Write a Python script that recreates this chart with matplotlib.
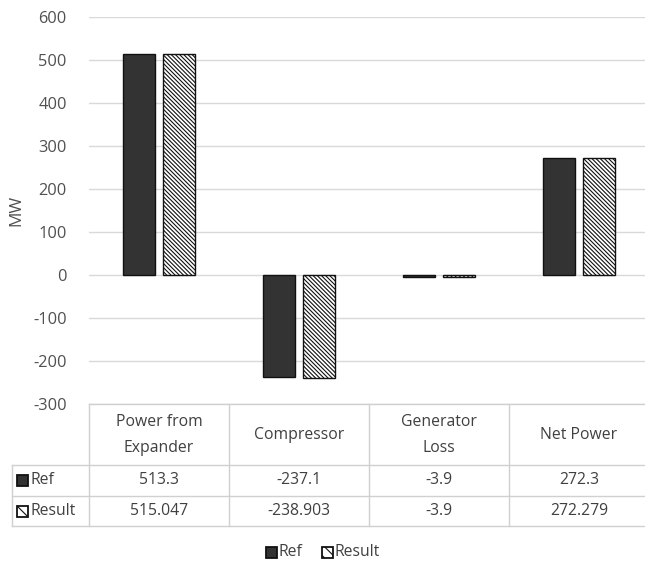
import matplotlib
matplotlib.use("Agg")
import matplotlib.pyplot as plt
import matplotlib.transforms as mtransforms
from matplotlib.patches import Rectangle
from matplotlib.lines import Line2D

plt.rcParams['font.family'] = ['Open Sans', 'DejaVu Sans']
plt.rcParams['hatch.linewidth'] = 0.8

categories = ["Power from\nExpander", "Compressor", "Generator\nLoss", "Net Power"]
ref_values = [513.3, -237.1, -3.9, 272.3]
result_values = [515.047, -238.903, -3.9, 272.279]
ref_labels = ["513.3", "-237.1", "-3.9", "272.3"]
result_labels = ["515.047", "-238.903", "-3.9", "272.279"]
series_names = ["Ref", "Result"]
yticks = [-300, -200, -100, 0, 100, 200, 300, 400, 500, 600]

W, H = 645, 565
fig = plt.figure(figsize=(W / 100, H / 100), dpi=100)
FS = 11.3

def fx(px):
    return px / W

def fy(py):
    return 1 - py / H

left, right, top, bottom = 89, 649, 17, 404
ax = fig.add_axes([fx(left), fy(bottom), fx(right) - fx(left), fy(top) - fy(bottom)])
ax.set_xlim(-0.5, 3.5)
ax.set_ylim(-300, 600)
ax.set_yticks(yticks)
ax.set_yticklabels([str(t) for t in yticks], color='#505050', fontsize=FS + 0.5)
ax.tick_params(axis='y', length=0, pad=16)
ax.set_xticks([])
for s in ax.spines.values():
    s.set_visible(False)
ax.grid(axis='y', color='#d9d9d9', linewidth=1)
ax.set_axisbelow(True)
ax.set_ylabel("MW", color='#505050', fontsize=FS + 1, labelpad=6)

x = range(len(categories))
bw = 0.229
off = 0.143
ref_color = '#333333'
ax.bar([i - off for i in x], ref_values, width=bw, color=ref_color, edgecolor='#111111', linewidth=1, zorder=3)
ax.bar([i + off for i in x], result_values, width=bw, color='white', edgecolor='#111111',
       hatch='\\' * 8, linewidth=1, zorder=3)

# Table
lc = '#d0d0d0'
txtc = '#404040'
trans = mtransforms.blended_transform_factory(ax.transData, fig.transFigure)
y_hdr_top, y_hdr_bot, y_r1, y_r2 = 404, 465, 496, 526
x_lab = fx(12)

def hline(y, x0fig):
    fig.add_artist(Line2D([x0fig, fx(right)], [fy(y), fy(y)], color=lc, lw=1, transform=fig.transFigure))

hline(y_hdr_top, fx(left))
for yy in (y_hdr_bot, y_r1, y_r2):
    hline(yy, x_lab)
fig.add_artist(Line2D([x_lab, x_lab], [fy(y_hdr_bot), fy(y_r2)], color=lc, lw=1, transform=fig.transFigure))
for b in [-0.5, 0.5, 1.5, 2.5]:
    fig.add_artist(Line2D([b, b], [fy(y_hdr_top), fy(y_r2)], color=lc, lw=1, transform=trans))

for i, c in enumerate(categories):
    fig.text(i, fy((y_hdr_top + y_hdr_bot) / 2 + 0.5), c, transform=trans, ha='center', va='center',
             fontsize=FS, color=txtc, linespacing=1.85)
    fig.text(i, fy((y_hdr_bot + y_r1) / 2), ref_labels[i], transform=trans, ha='center', va='center',
             fontsize=FS, color=txtc)
    fig.text(i, fy((y_r1 + y_r2) / 2), result_labels[i], transform=trans, ha='center', va='center',
             fontsize=FS, color=txtc)

def key(xp, yc, hatched):
    r = Rectangle((fx(xp), fy(yc + 5.5)), fx(11), 11 / H, transform=fig.transFigure,
                  facecolor='white' if hatched else ref_color, edgecolor='#111111', lw=1.3,
                  hatch='\\\\\\' if hatched else None)
    fig.add_artist(r)

for name, yy, hatched in [(series_names[0], (y_hdr_bot + y_r1) / 2, False), (series_names[1], (y_r1 + y_r2) / 2, True)]:
    key(17, yy, hatched)
    fig.text(fx(30), fy(yy), name, ha='left', va='center', fontsize=FS, color=txtc)

# Legend
ly = 552
key(266, ly, False)
fig.text(fx(279), fy(ly), series_names[0], ha='left', va='center', fontsize=FS, color=txtc)
key(322, ly, True)
fig.text(fx(335), fy(ly), series_names[1], ha='left', va='center', fontsize=FS, color=txtc)

fig.savefig("out.png", dpi=100, facecolor='white')
